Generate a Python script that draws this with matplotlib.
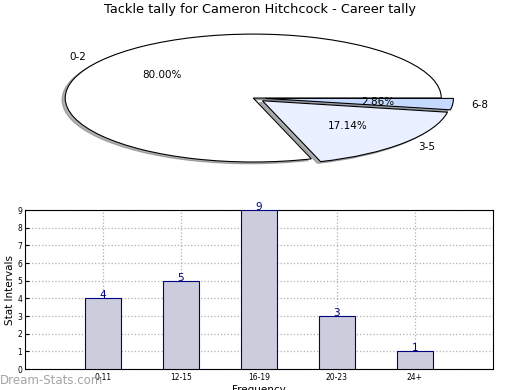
import matplotlib
matplotlib.use("Agg")
import matplotlib.pyplot as plt

# Pie data
pie_labels = ["0-2", "3-5", "6-8"]
pie_values = [28, 6, 1]
pie_colors = ["#ffffff", "#eaf0ff", "#c6d9ff"]
pie_explode = [0.0, 0.065, 0.065]

# Bar data
bar_categories = ["0-11", "12-15", "16-19", "20-23", "24+"]
bar_values = [4, 5, 9, 3, 1]

title = "Tackle tally for Cameron Hitchcock - Career tally"

fig = plt.figure(figsize=(5.2, 3.9), dpi=100)

# Pie axes
ax1 = fig.add_axes([0.035, 0.5436, 0.904, 0.41])
wedges, texts, autotexts = ax1.pie(
    pie_values, labels=pie_labels, colors=pie_colors, explode=pie_explode,
    autopct="%.2f%%", shadow={"ox": -0.012, "oy": -0.02, "shade": 0.6},
    startangle=0, labeldistance=1.1, pctdistance=0.6,
    wedgeprops=dict(edgecolor="black", linewidth=0.8),
    textprops=dict(fontsize=7.5))
ax1.set_aspect("auto")
ax1.set_xlim(-1.25, 1.25)
ax1.set_ylim(-1.25, 1.25)
fig.text(0.5, 0.993, title, ha="center", va="top", fontsize=9.3)

# Bar axes
ax2 = fig.add_axes([0.048, 0.0538, 0.9, 0.4077])
x = list(range(len(bar_categories)))
bars = ax2.bar(x, bar_values, width=0.46, color="#ccccdd", edgecolor="#000080", linewidth=0.8, zorder=3)
for xi, v in zip(x, bar_values):
    ax2.text(xi, v - 0.12, str(v), ha="center", va="bottom", color="#000080", fontsize=7.5, zorder=4)
ax2.set_xlim(-1, 5)
ax2.set_ylim(0, 9)
ax2.set_xticks(x)
ax2.set_xticklabels(bar_categories, fontsize=5.5)
ax2.set_yticks(range(0, 10))
ax2.tick_params(axis="y", labelsize=5.5, direction="in", length=3, pad=2)
ax2.tick_params(axis="x", direction="in", length=3, pad=3)
ax2.grid(True, linestyle=":", color="#b0b0b0", linewidth=0.9, zorder=0)
ax2.set_ylabel("Stat Intervals", fontsize=7.5, labelpad=2)
ax2.set_xlabel("Frequency", fontsize=7.5, labelpad=2)

fig.text(0.0, 0.008, "Dream-Stats.com", color="#999999", fontsize=8.5, ha="left", va="bottom", alpha=0.9)

fig.savefig("out.png", dpi=100)
